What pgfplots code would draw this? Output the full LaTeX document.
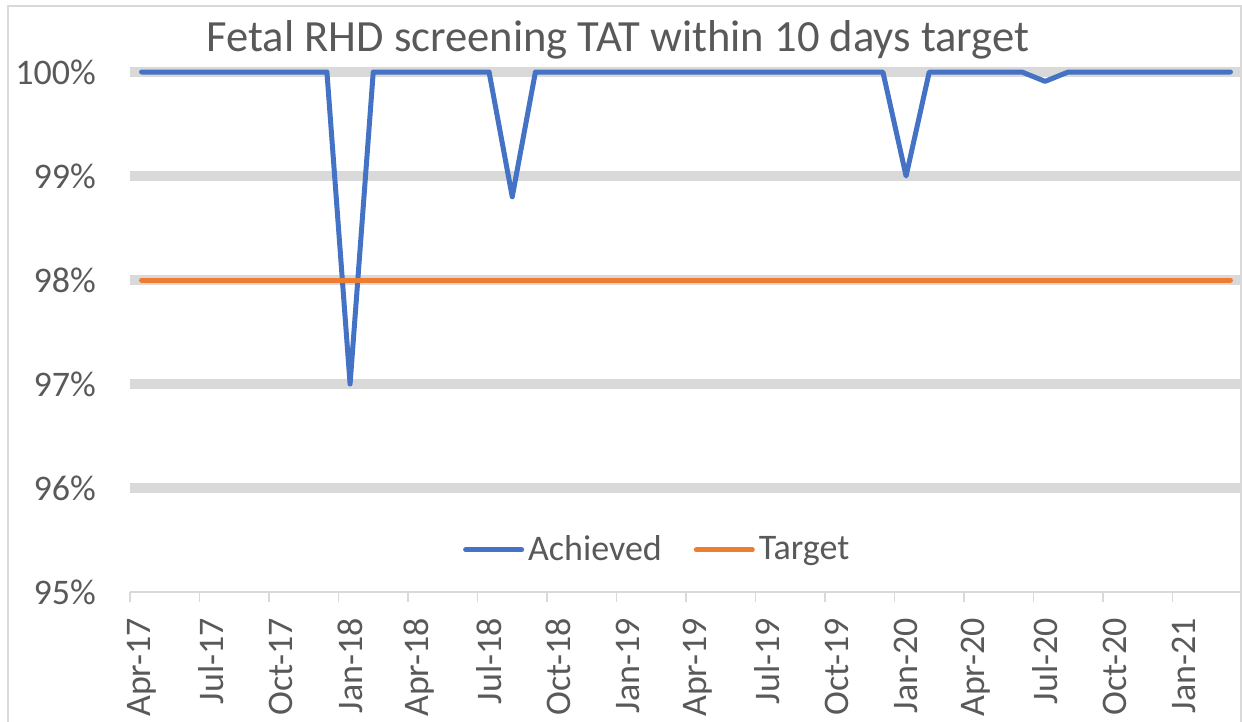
\documentclass[border=0pt]{standalone}
\usepackage{fontspec}
\setmainfont{Carlito}
\usepackage{pgfplots}
\pgfplotsset{compat=1.18}
\definecolor{txtgray}{RGB}{89,89,89}
\definecolor{gridgray}{RGB}{217,217,217}
\definecolor{achblue}{RGB}{68,114,196}
\definecolor{tgtorange}{RGB}{237,125,49}

% monthly values, index 0 = Apr-17 ... 47 = Mar-21
\begin{document}
\begin{tikzpicture}
\begin{axis}[
  scale only axis, width=556pt, height=260pt,
  xmin=-0.5, xmax=47.5, ymin=95, ymax=100,
  clip=false,
  axis x line*=bottom, axis y line*=left,
  y axis line style={draw=none},
  x axis line style={draw=gridgray, line width=0.8pt},
  xtick={0,3,...,45},
  xticklabels={Apr-17,Jul-17,Oct-17,Jan-18,Apr-18,Jul-18,Oct-18,Jan-19,Apr-19,Jul-19,Oct-19,Jan-20,Apr-20,Jul-20,Oct-20,Jan-21},
  minor xtick={-0.5,2.5,...,47.5},
  tick align=outside,
  major tick length=0pt, minor tick length=5pt,
  xtick style={draw=none},
  minor x tick style={draw=gridgray, line width=0.8pt},
  ytick={95,96,97,98,99,100},
  yticklabels={95\%,96\%,97\%,98\%,99\%,100\%},
  ytick style={draw=none},
  extra y ticks={96,97,98,99,100},
  extra y tick labels={},
  extra y tick style={ymajorgrids=true, major grid style={line width=5pt, draw=gridgray}},
  tick label style={font=\fontsize{18pt}{20pt}\selectfont, text=txtgray},
  xticklabel style={rotate=90, anchor=east, xshift=-9.5pt},
  yticklabel style={xshift=-13.5pt},
  legend style={at={(0.475,0.081)}, anchor=center, draw=none, fill=none,
    font=\fontsize{18pt}{20pt}\selectfont, text=txtgray, legend columns=2,
    /tikz/every even column/.append style={column sep=14pt},
    inner sep=0pt},
  legend image code/.code={\draw[#1, line cap=round] (0pt,0pt) -- (28pt,0pt);},
]
\addplot[achblue, line width=2.5pt, line join=round, line cap=round] coordinates {
(0,100) (1,100) (2,100) (3,100) (4,100) (5,100) (6,100) (7,100)
(8,100) (9,97.0) (10,100) (11,100) (12,100) (13,100) (14,100) (15,100)
(16,98.8) (17,100) (18,100) (19,100) (20,100) (21,100) (22,100) (23,100)
(24,100) (25,100) (26,100) (27,100) (28,100) (29,100) (30,100) (31,100)
(32,100) (33,99.0) (34,100) (35,100) (36,100) (37,100) (38,100) (39,99.91)
(40,100) (41,100) (42,100) (43,100) (44,100) (45,100) (46,100) (47,100)
};
\addlegendentry{Achieved}
\addplot[tgtorange, line width=2.5pt, line cap=round] coordinates {
(0,98) (47,98)
};
\addlegendentry{Target}
\end{axis}
\node[anchor=base, text=txtgray, font=\fontsize{22.3pt}{24pt}\selectfont] at (244pt,270pt) {Fetal RHD screening TAT within 10 days target};
\draw[gridgray, line width=1pt] (-61pt,-90pt) rectangle (555.5pt,293pt);
\pgfresetboundingbox
\path[use as bounding box] (-65pt,-65pt) rectangle (556pt,296pt);
\end{tikzpicture}
\end{document}
